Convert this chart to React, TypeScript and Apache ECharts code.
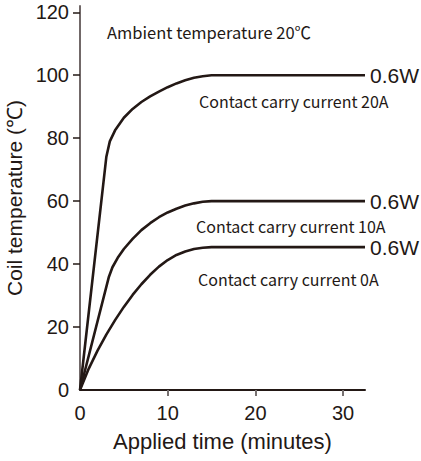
import React, { useEffect, useRef } from "react";
import * as echarts from "echarts";

const xTicks = [0, 10, 20, 30];
const yTicks = [0, 20, 40, 60, 80, 100, 120];

const current20A: [number, number][] = [
  [0, 0], [3, 74], [3.4, 79], [4, 82.5], [5, 86.5], [6, 89.3], [7, 91.5], [8, 93.3],
  [9, 94.8], [10, 96.2], [11, 97.4], [12, 98.4], [13, 99.2], [14, 99.7], [15, 100], [32.5, 100],
];
const current10A: [number, number][] = [
  [0, 0], [3.3, 36], [3.7, 39], [4.3, 42], [5, 44.8], [6, 48], [7, 50.8], [8, 53],
  [9, 54.9], [10, 56.4], [11, 57.6], [12, 58.6], [13, 59.3], [14, 59.8], [15, 60], [32.5, 60],
];
const current0A: [number, number][] = [
  [0, 0], [1, 6.8], [2, 12.5], [3, 17.6], [4, 22.2], [5, 26.4], [6, 30.2], [7, 33.6],
  [8, 36.6], [9, 39.2], [10, 41.3], [11, 42.9], [12, 44], [13, 44.8], [14, 45.2], [15, 45.4], [32.5, 45.4],
];

const seriesNames = ["Contact carry current 20A", "Contact carry current 10A", "Contact carry current 0A"];
const endLabelText = "0.6W";
const ambientText = "Ambient temperature 20℃";

const INK = "#231815";
const SANS = "'Liberation Sans Narrow', 'Liberation Sans', Arial, sans-serif";
const JP = "'Noto Sans CJK JP', 'Noto Sans', sans-serif";

export default function App() {
  const ref = useRef<HTMLDivElement>(null);
  useEffect(() => {
    if (!ref.current) return;
    const chart = echarts.init(ref.current, undefined, { renderer: "svg" });
    const mk = (name: string, data: [number, number][]) => ({
      name,
      type: "line",
      data,
      symbol: "none",
      lineStyle: { color: INK, width: 2.6 },
      endLabel: {
        show: true,
        formatter: endLabelText,
        color: INK,
        fontSize: 21,
        fontFamily: SANS,
        distance: 5,
      },
    });
    chart.setOption({
      animation: false,
      backgroundColor: "#ffffff",
      grid: { left: 80, right: 56, top: 6, bottom: 71, outerBoundsMode: "none" },
      xAxis: {
        type: "value",
        min: 0,
        max: 32.5,
        interval: 10,
        name: "Applied time (minutes)",
        nameLocation: "middle",
        nameGap: 40,
        nameTextStyle: { fontSize: 22, color: INK, fontFamily: SANS },
        axisLine: { lineStyle: { color: INK, width: 2 } },
        axisTick: { customValues: [10, 20, 30], length: 6, lineStyle: { color: "#777070", width: 2 } },
        axisLabel: { customValues: xTicks, fontSize: 20, color: INK, fontFamily: SANS, margin: 13 },
        splitLine: { show: false },
      },
      yAxis: {
        type: "value",
        min: 0,
        max: 122,
        interval: 20,
        name: "Coil temperature (℃)",
        nameLocation: "middle",
        nameRotate: 90,
        nameGap: 44,
        nameTextStyle: { fontSize: 21, color: INK, fontFamily: SANS },
        axisLine: { lineStyle: { color: "#716868", width: 2 } },
        axisTick: { customValues: [20, 40, 60, 80, 100, 120], length: 7, lineStyle: { color: INK, width: 1.5 } },
        axisLabel: { customValues: yTicks, fontSize: 20, color: INK, fontFamily: SANS, margin: 11 },
        splitLine: { show: false },
      },
      series: [mk(seriesNames[0], current20A), mk(seriesNames[1], current10A), mk(seriesNames[2], current0A)],
      graphic: [
        { type: "text", x: 107, y: 32, style: { text: ambientText, fill: INK, fontSize: 16.5, fontFamily: JP, verticalAlign: "middle" } },
        { type: "text", x: 199, y: 101, style: { text: seriesNames[0], fill: INK, fontSize: 16, fontFamily: JP, verticalAlign: "middle" } },
        { type: "text", x: 196, y: 226, style: { text: seriesNames[1], fill: INK, fontSize: 16, fontFamily: JP, verticalAlign: "middle" } },
        { type: "text", x: 198, y: 279, style: { text: seriesNames[2], fill: INK, fontSize: 16, fontFamily: JP, verticalAlign: "middle" } },
      ],
    });
    return () => chart.dispose();
  }, []);
  return <div ref={ref} style={{ position: "absolute", left: 0, top: 0, width: 421, height: 461 }} />;
}
